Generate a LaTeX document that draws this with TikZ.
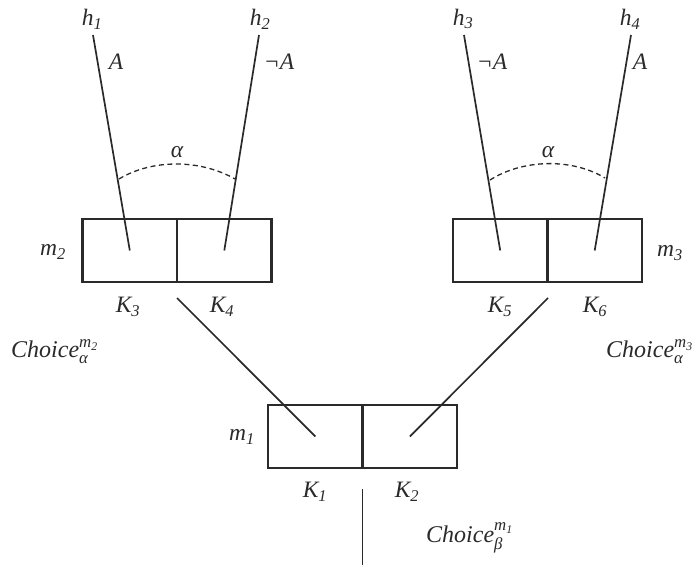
\documentclass[tikz,border=0pt]{standalone}
\usepackage{fontspec}
\usepackage{amsmath}
\setmainfont{Liberation Serif}
\definecolor{ink}{HTML}{2A2A2A}
\begin{document}
\begin{tikzpicture}[x=1pt,y=-1pt,
  lbl/.style={font=\fontsize{23.5}{27}\selectfont\itshape, inner sep=0, text=ink},
  chc/.style={font=\fontsize{24}{28}\selectfont\itshape, inner sep=0, anchor=base west, text=ink},
  cell/.style={draw=ink, line width=2.6pt, minimum width=94.5pt, minimum height=63pt, inner sep=0},
  wire/.style={draw=ink, line width=1.7pt},
  arcd/.style={draw=ink, line width=1.3pt, dash pattern=on 5pt off 3.5pt}]
\useasboundingbox (0,0) rectangle (698,568);
% cells
\node[cell] (k3) at (129.8,250.5) {};
\node[cell] (k4) at (224.3,250.5) {};
\node[cell] (k5) at (500.2,250.5) {};
\node[cell] (k6) at (594.7,250.5) {};
\node[cell] (k1) at (315.4,436.5) {};
\node[cell] (k2) at (409.9,436.5) {};
% line ends
\coordinate (t1) at (93,35);
\coordinate (t2) at (259,35);
\coordinate (t3) at (464,35);
\coordinate (t4) at (631,35);
\coordinate (d2) at (177,298);
\coordinate (d3) at (548,298);
\coordinate (v1) at (362.5,489);
\coordinate (v2) at (362.5,565);
\coordinate (a1) at (119,179);
\coordinate (a2) at (235,179);
\coordinate (a3) at (490,180);
\coordinate (a4) at (605,178);
% wires
\draw[wire] (t1) -- (k3.center);
\draw[wire] (t2) -- (k4.center);
\draw[wire] (t3) -- (k5.center);
\draw[wire] (t4) -- (k6.center);
\draw[wire] (d2) -- (k1.center);
\draw[wire] (d3) -- (k2.center);
\draw[wire] (v1) -- (v2);
% dashed arcs
\draw[arcd] (a1) .. controls (152,159) and (200,159) .. (a2);
\draw[arcd] (a3) .. controls (523,159) and (572,158) .. (a4);
% labels
\node[lbl] (h1) at (92,19) {h\textsubscript{1}};
\node[lbl] (h2) at (260,19) {h\textsubscript{2}};
\node[lbl] (h3) at (463,19) {h\textsubscript{3}};
\node[lbl] (h4) at (630,19) {h\textsubscript{4}};
\node[lbl] (A1) at (116,62) {A};
\node[lbl] (A2) at (279,62) {¬A};
\node[lbl] (A3) at (492,62) {¬A};
\node[lbl] (A4) at (640,62) {A};
\node[lbl] (al1) at (177,152) {α};
\node[lbl] (al2) at (548,152) {α};
\node[lbl] (m2) at (53,252) {m\textsubscript{2}};
\node[lbl] (m3) at (670,253) {m\textsubscript{3}};
\node[lbl] (m1) at (242,437) {m\textsubscript{1}};
\node[lbl] (K3) at (128,307) {K\textsubscript{3}};
\node[lbl] (K4) at (222,307) {K\textsubscript{4}};
\node[lbl] (K5) at (500,307) {K\textsubscript{5}};
\node[lbl] (K6) at (595,307) {K\textsubscript{6}};
\node[lbl] (K1) at (315,492) {K\textsubscript{1}};
\node[lbl] (K2) at (407,492) {K\textsubscript{2}};
\node[chc] (c2) at (11,357) {Choice$^{\text{\itshape m\textsubscript{2}}}_{\text{\itshape α}}$};
\node[chc] (c3) at (606,357) {Choice$^{\text{\itshape m\textsubscript{3}}}_{\text{\itshape α}}$};
\node[chc] (c1) at (426,542) {Choice$^{\text{\itshape m\textsubscript{1}}}_{\text{\itshape β}}$};
\end{tikzpicture}
\end{document}
